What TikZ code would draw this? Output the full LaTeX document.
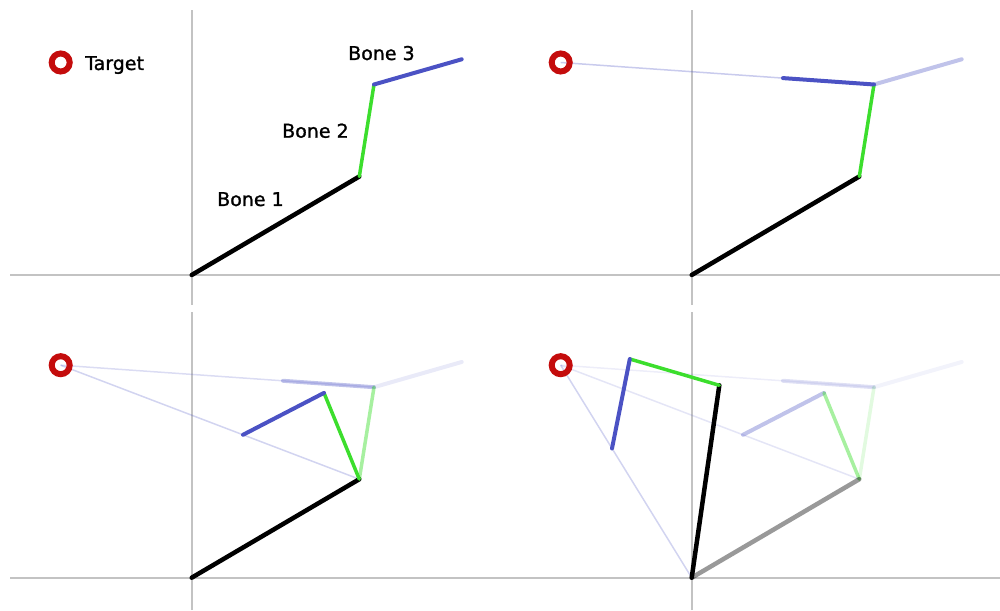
\documentclass[tikz,border=0pt]{standalone}
\usepackage{fontspec}
\setmainfont{DejaVu Sans}
\newfontfamily\bonefont[FakeBold=1.2]{DejaVu Sans}
\usetikzlibrary{positioning}

\definecolor{axisgray}{RGB}{195,195,195}
\definecolor{bonegreen}{RGB}{60,222,45}
\definecolor{boneblue}{RGB}{75,82,196}
\definecolor{targetred}{RGB}{196,12,12}

\tikzset{
  axisline/.style={axisgray, line width=2pt},
  boneone/.style={black, line width=4.5pt, line cap=round},
  bonetwo/.style={bonegreen, line width=3.5pt, line cap=round},
  bonethree/.style={boneblue, line width=4pt, line cap=round},
  ray/.style={boneblue, line width=1.5pt, opacity=0.3},
  targetring/.style={circle, draw=targetred, line width=6pt, minimum size=18pt, inner sep=0pt},
  bonelabel/.style={font=\bonefont\fontsize{19}{20}\selectfont, inner sep=0pt, anchor=base west},
}

% joints of the chain, in the frame of one panel
\newcommand{\placejoints}{%
  \coordinate (O) at (0,0);
  \coordinate (J1) at (167.6,98.5);
  \coordinate (J2) at (182.3,190.5);
  \coordinate (E0) at (270,215.7);
  \coordinate (T) at (-131,212.5);
  \coordinate (E1) at (91.3,196.9);
  \coordinate (J2b) at (132.3,184.8);
  \coordinate (E2) at (51.3,142.9);
  \coordinate (J1c) at (27.6,192.4);
  \coordinate (J2c) at (-61.9,218.7);
  \coordinate (E3) at (-79.7,129.2);
}

\begin{document}
\begin{tikzpicture}[x=1pt, y=1pt]
\useasboundingbox (0,0) rectangle (1000,610);

% first panel: start pose
\begin{scope}[shift={(191.7,335)}]
  \placejoints
  \draw[axisline] (-181.7,0) -- (308.3,0);
  \draw[axisline] (0,-30) -- (0,265);
  \draw[boneone] (O) -- (J1);
  \draw[bonetwo] (J1) -- (J2);
  \draw[bonethree] (J2) -- (E0);
  \node[targetring] (tgt1) at (T) {};
  \node[bonelabel] (lbltarget) at (-106.7,205) {Target};
  \node[bonelabel] (lblbone1) at (25.3,69) {Bone 1};
  \node[bonelabel] (lblbone2) at (90.3,137.3) {Bone 2};
  \node[bonelabel] (lblbone3) at (156.3,215) {Bone 3};
\end{scope}

% second panel: bone 3 turned
\begin{scope}[shift={(691.7,335)}]
  \placejoints
  \draw[axisline] (-191.7,0) -- (308.3,0);
  \draw[axisline] (0,-30) -- (0,265);
  \draw[bonethree, opacity=0.35] (J2) -- (E0);
  \draw[ray] (T) -- (J2);
  \draw[boneone] (O) -- (J1);
  \draw[bonetwo] (J1) -- (J2);
  \draw[bonethree] (J2) -- (E1);
  \node[targetring] (tgt2) at (T) {};
\end{scope}

% third panel: bone 2 turned
\begin{scope}[shift={(191.7,32.3)}]
  \placejoints
  \draw[axisline] (-181.7,0) -- (308.3,0);
  \draw[axisline] (0,-32.3) -- (0,265.7);
  \draw[bonethree, opacity=0.12] (J2) -- (E0);
  \draw[ray, opacity=0.2] (T) -- (J2);
  \draw[bonethree, opacity=0.35] (J2) -- (E1);
  \draw[bonetwo, opacity=0.45] (J1) -- (J2);
  \draw[ray, opacity=0.25] (T) -- (J1);
  \draw[boneone] (O) -- (J1);
  \draw[bonetwo] (J1) -- (J2b);
  \draw[bonethree] (J2b) -- (E2);
  \node[targetring] (tgt3) at (T) {};
\end{scope}

% fourth panel: bone 1 turned
\begin{scope}[shift={(691.7,32.3)}]
  \placejoints
  \draw[axisline] (-191.7,0) -- (308.3,0);
  \draw[axisline] (0,-32.3) -- (0,265.7);
  \draw[bonethree, opacity=0.07] (J2) -- (E0);
  \draw[ray, opacity=0.1] (T) -- (J2);
  \draw[bonethree, opacity=0.18] (J2) -- (E1);
  \draw[bonetwo, opacity=0.15] (J1) -- (J2);
  \draw[ray, opacity=0.15] (T) -- (J1);
  \draw[bonethree, opacity=0.35] (J2b) -- (E2);
  \draw[bonetwo, opacity=0.45] (J1) -- (J2b);
  \draw[boneone, opacity=0.4] (O) -- (J1);
  \draw[ray, opacity=0.25] (T) -- (O);
  \draw[boneone] (O) -- (J1c);
  \draw[bonetwo] (J1c) -- (J2c);
  \draw[bonethree] (J2c) -- (E3);
  \node[targetring] (tgt4) at (T) {};
\end{scope}
\end{tikzpicture}
\end{document}
